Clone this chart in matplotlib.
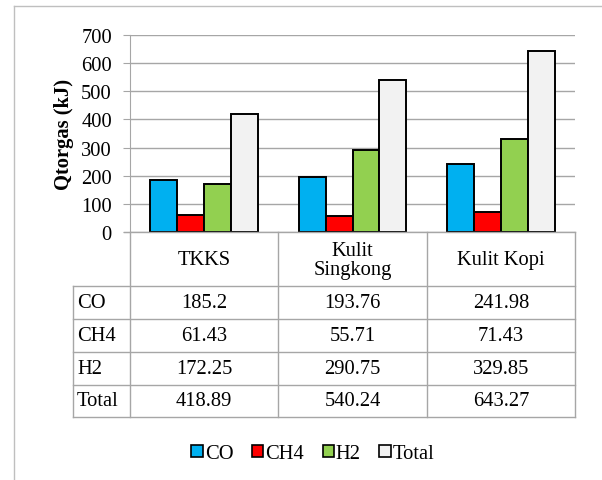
import matplotlib
matplotlib.use("Agg")
import matplotlib.pyplot as plt
from matplotlib.lines import Line2D
from matplotlib.patches import Patch
import numpy as np

categories = ["TKKS", "Kulit\nSingkong", "Kulit Kopi"]
series_names = ["CO", "CH4", "H2", "Total"]
co = [185.2, 193.76, 241.98]
ch4 = [61.43, 55.71, 71.43]
h2 = [172.25, 290.75, 329.85]
total = [418.89, 540.24, 643.27]
yticks = [0, 100, 200, 300, 400, 500, 600, 700]
colors = ["#00B0F0", "#FF0000", "#92D050", "#F2F2F2"]

series = [co, ch4, h2, total]

W, H = 602, 481
plt.rcParams['font.family'] = ['Liberation Serif', 'DejaVu Serif']
fig = plt.figure(figsize=(W / 100, H / 100), dpi=100)

def fx(px):
    return px / W

def fy(py):
    return 1 - py / H

grid_c = "#A6A6A6"
fs = 14.8

# chart axes
x0, x1 = 130, 575
y_top, y_zero = 36, 233
ax = fig.add_axes([fx(x0), fy(y_zero), fx(x1) - fx(x0), fy(y_top) - fy(y_zero)])
ax.set_xlim(-0.5, 2.5)
ax.set_ylim(0, 700)
x = np.arange(len(categories))
bw = 0.182
for i, (vals, c) in enumerate(zip(series, colors)):
    ax.bar(x + (i - 1.5) * bw, vals, width=bw, color=c, edgecolor="black",
           linewidth=1.4, zorder=3, label=series_names[i])
ax.set_yticks(yticks)
ax.set_yticklabels([str(v) for v in yticks], fontsize=fs)
ax.set_xticks([])
ax.grid(axis="y", color=grid_c, linewidth=1.0, zorder=0)
for s in ["top", "right", "bottom"]:
    ax.spines[s].set_visible(False)
ax.spines["left"].set_color(grid_c)
ax.tick_params(axis="y", length=5, color=grid_c, pad=8)
ax.set_ylabel("Qtorgas (kJ)", fontsize=fs, fontweight="bold", labelpad=5)

# table drawn in pixel coordinates
col_edges = [x0 + (x1 - x0) * k / 3 for k in range(4)]
row_label_left = 73
header_top, header_bot = 233, 287
row_edges = [287, 320, 353, 386, 418]

def hline(y, xa, xb):
    fig.add_artist(Line2D([fx(xa), fx(xb)], [fy(y), fy(y)], color=grid_c, lw=1.0))

def vline(xv, ya, yb):
    fig.add_artist(Line2D([fx(xv), fx(xv)], [fy(ya), fy(yb)], color=grid_c, lw=1.0))

hline(header_top, x0 - 6, x1)
for yv in row_edges:
    hline(yv, row_label_left, x1)
for xv in col_edges:
    vline(xv, header_top, row_edges[-1])
vline(row_label_left, row_edges[0], row_edges[-1])

for k, cat in enumerate(categories):
    cx = (col_edges[k] + col_edges[k + 1]) / 2
    fig.text(fx(cx), fy((header_top + header_bot) / 2 + 1), cat, ha="center", va="center",
             fontsize=fs, linespacing=1.0)

for r, (name, vals) in enumerate(zip(series_names, series)):
    cy = (row_edges[r] + row_edges[r + 1]) / 2
    fig.text(fx(row_label_left + 4), fy(cy), name, ha="left", va="center", fontsize=fs)
    for k, v in enumerate(vals):
        cx = (col_edges[k] + col_edges[k + 1]) / 2
        fig.text(fx(cx), fy(cy), f"{v:g}", ha="center", va="center", fontsize=fs)

# legend
handles = [Patch(facecolor=c, edgecolor="black", linewidth=1.2) for c in colors]
fig.legend(handles, series_names, loc="center", bbox_to_anchor=(fx(313), fy(455)),
           ncol=4, frameon=False, fontsize=fs, handlelength=0.55, handleheight=0.55,
           handletextpad=0.1, columnspacing=0.9)

# outer frame
fig.add_artist(Line2D([fx(14), fx(14)], [fy(7), 0], color="#BFBFBF", lw=1.0))
fig.add_artist(Line2D([fx(14), 1], [fy(7), fy(7)], color="#BFBFBF", lw=1.0))

fig.savefig("out.png", dpi=100)
